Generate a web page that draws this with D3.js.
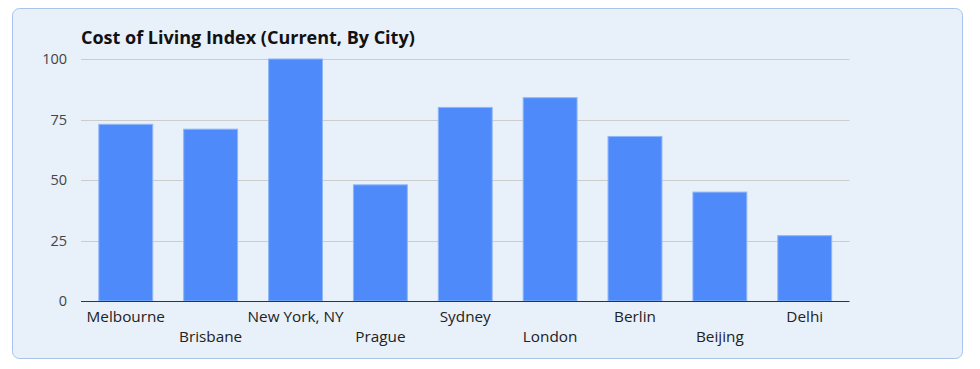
<!DOCTYPE html>
<html><head><meta charset="utf-8">
<script src="https://cdn.jsdelivr.net/npm/d3@7"></script>
<style>
html,body{margin:0;padding:0;background:#fff;}
svg{display:block;}
</style></head>
<body>
<svg id="chart" width="980" height="369"></svg>
<script>
const title = "Cost of Living Index (Current, By City)";
const cities = ["Melbourne","Brisbane","New York, NY","Prague","Sydney","London","Berlin","Beijing","Delhi"];
const values = [73,71,100,48,80,84,68,45,27];
const yTicks = [0,25,50,75,100];

(function(){
const svg = d3.select("#chart");
const font = "'Open Sans','Noto Sans',sans-serif";

svg.append("rect").attr("x",12.5).attr("y",8.5).attr("width",950).attr("height",350)
  .attr("rx",7).attr("fill","#e8f0fa").attr("stroke","#a9c3ea").attr("stroke-width",1);

const pLeft=81, pRight=849.5, pTop=59, pBottom=301;
const x = d3.scaleBand().domain(cities).range([pLeft,pRight]).paddingInner(0.365).paddingOuter(0.21);
const y = d3.scaleLinear().domain([0,100]).range([pBottom,pTop]);

svg.append("text").attr("x",81).attr("y",44).text(title)
  .attr("font-family",font).attr("font-weight","bold").attr("font-size",18).attr("fill","#111");

const grid = svg.append("g");
grid.selectAll("line").data(yTicks.filter(d=>d>0)).join("line")
  .attr("x1",pLeft).attr("x2",pRight).attr("y1",d=>Math.round(y(d))+0.5).attr("y2",d=>Math.round(y(d))+0.5)
  .attr("stroke","#cccccc").attr("stroke-width",1.2);

const yAxis = svg.append("g").attr("transform",`translate(${pLeft},0)`)
  .call(d3.axisLeft(y).tickValues(yTicks).tickSize(0).tickPadding(14));
yAxis.select(".domain").remove();
yAxis.selectAll("text").attr("font-family",font).attr("font-size",14.5).attr("fill","#444");

svg.append("g").selectAll("rect").data(values).join("rect")
  .attr("x",(d,i)=>x(cities[i])).attr("width",x.bandwidth())
  .attr("y",d=>y(d)).attr("height",d=>y(0)-y(d))
  .attr("fill","#4e8af9").attr("stroke","#8fb6f7").attr("stroke-width",1);

svg.append("line").attr("x1",pLeft).attr("x2",pRight).attr("y1",pBottom+0.5).attr("y2",pBottom+0.5)
  .attr("stroke","#333").attr("stroke-width",1.2);

const xAxis = svg.append("g").attr("transform",`translate(0,${pBottom})`)
  .call(d3.axisBottom(x).tickSize(0));
xAxis.select(".domain").remove();
xAxis.selectAll("text").attr("font-family",font).attr("font-size",15.3).attr("fill","#222")
  .attr("dy",null).attr("y",(d,i)=>i%2===0?21:41);
})();
</script>
</body></html>
